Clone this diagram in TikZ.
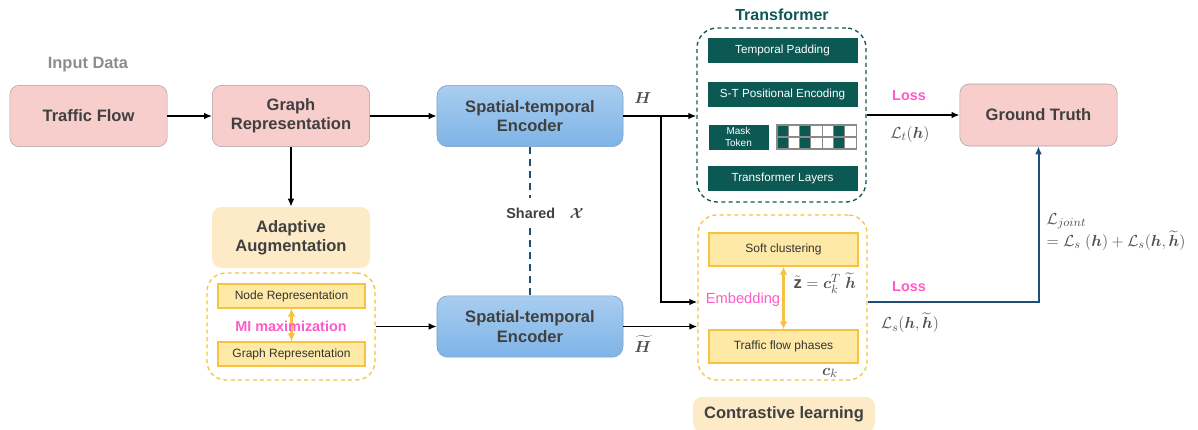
\documentclass[tikz,border=0pt]{standalone}
\usepackage{fontspec}
\setmainfont{Liberation Sans}
\usepackage{amsmath}
\usepackage{bm}
\usetikzlibrary{arrows.meta}

\definecolor{txtgray}{HTML}{404040}
\definecolor{mathgray}{HTML}{505050}
\definecolor{inputgray}{HTML}{8C8C8C}
\definecolor{pinkfill}{HTML}{F8CECC}
\definecolor{boxedge}{HTML}{A8A0A0}
\definecolor{enctop}{HTML}{A9CDEF}
\definecolor{encbot}{HTML}{7DB4E7}
\definecolor{encedge}{HTML}{7C9EC2}
\definecolor{augfill}{HTML}{FDEBC7}
\definecolor{orangeline}{HTML}{F5C242}
\definecolor{yellowfill}{HTML}{FFE9A6}
\definecolor{tealdark}{HTML}{0C5954}
\definecolor{navyline}{HTML}{1F4E79}
\definecolor{pinktxt}{HTML}{FF5AC8}
\definecolor{cellgray}{HTML}{8A8A8A}

\tikzset{
  pinkbox/.style={draw=boxedge, fill=pinkfill, rounded corners=7pt, text=txtgray,
    font=\bfseries\fontsize{12.4}{14.5}\selectfont, align=center, inner sep=0pt,
    minimum width=118pt, minimum height=46pt},
  encbox/.style={draw=encedge, top color=enctop, bottom color=encbot, rounded corners=8pt,
    text=txtgray, font=\bfseries\fontsize{12.4}{14.5}\selectfont, align=center, inner sep=0pt,
    minimum width=139.5pt, minimum height=46pt},
  softbox/.style={fill=augfill, rounded corners=7pt, text=txtgray,
    font=\bfseries\fontsize{12.4}{14.5}\selectfont, align=center, inner sep=0pt},
  orangedash/.style={draw=orangeline, line width=1pt, dash pattern=on 3pt off 2.5pt,
    rounded corners=14pt, inner sep=0pt},
  tealdash/.style={draw=tealdark, line width=1pt, dash pattern=on 3pt off 2.5pt,
    rounded corners=15pt, inner sep=0pt},
  yellowbar/.style={draw=orangeline, fill=yellowfill, line width=1pt, text=black!80,
    font=\fontsize{9}{11}\selectfont, inner sep=0pt, minimum width=110.25pt},
  tealbar/.style={draw=tealdark, fill=tealdark, text=white, font=\fontsize{8.8}{10}\selectfont,
    align=center, inner sep=0pt, minimum width=111.75pt, minimum height=18pt},
  arr/.style={-{Latex[length=6pt,width=5pt]}, line width=1.4pt, black},
  dblarr/.style={{Latex[length=6pt,width=6pt]}-{Latex[length=6pt,width=6pt]},
    line width=2pt, orangeline},
  pinklbl/.style={text=pinktxt, font=\bfseries\fontsize{10.8}{12}\selectfont},
  mathlbl/.style={text=mathgray, font=\fontsize{12.5}{15}\selectfont},
}

\begin{document}
\begin{tikzpicture}[x=0.75pt,y=-0.75pt]
\useasboundingbox (0,0) rectangle (1198,429);

\node [text=inputgray, font=\bfseries\fontsize{12.3}{14}\selectfont] (input) at (88,65) {Input Data};
\node [pinkbox] (flow) at (88.5,116) {Traffic Flow};
\node [pinkbox] (graph) at (291,116) {Graph\\Representation};
\node [encbox] (enc1) at (530,116) {Spatial-temporal\\Encoder};
\node [encbox] (enc2) at (530,326.5) {Spatial-temporal\\Encoder};
\node [pinkbox, minimum height=46.5pt] (gt) at (1038.5,115) {Ground Truth};

\node [softbox, minimum width=118.5pt, minimum height=45.75pt] (aug) at (291,237.5) {Adaptive\\Augmentation};
\node [orangedash, minimum width=126pt, minimum height=80.25pt] (mibox) at (291,326.5) {};
\node [yellowbar, minimum height=18pt] (noderep) at (291.5,296) {Node Representation};
\node [yellowbar, minimum height=18pt] (graphrep) at (291.5,354) {Graph Representation};
\draw [dblarr] (noderep) -- (graphrep);
\node [pinklbl] (mitxt) at (291,326) {MI maximization};

\node [text=txtgray, font=\bfseries\fontsize{10.8}{12}\selectfont, inner sep=7pt] (shared) at (545,213)
  {Shared\quad$\boldsymbol{\mathcal{X}}$};
\draw [navyline, line width=1.2pt, dash pattern=on 5pt off 4pt] (enc1.south) -- (enc1.south |- shared.north);
\draw [navyline, line width=1.2pt, dash pattern=on 5pt off 4pt] (enc2.north |- shared.south) -- (enc2.north);

\node [tealdash, minimum width=126.75pt, minimum height=130.5pt] (trans) at (781.5,115) {};
\node [text=tealdark, font=\bfseries\fontsize{12}{14}\selectfont] (transttl) at (782,15) {Transformer};
\node [tealbar] (tpad) at (782.5,50) {Temporal Padding};
\node [tealbar] (stpe) at (782.5,94) {S-T Positional Encoding};
\node [tealbar, minimum width=44.25pt, font=\fontsize{7.5}{8.5}\selectfont] (mask) at (738.5,137) {Mask\\Token};
\foreach \i/\c in {0/tealdark,1/white,2/tealdark,3/white,4/white,5/tealdark,6/white} {
  \draw [draw=cellgray, fill=\c, line width=0.8pt] (777+\i*11.3,125) rectangle ++(11.3,12);
  \draw [draw=cellgray, fill=\c, line width=0.8pt] (777+\i*11.3,137) rectangle ++(11.3,12);
}
\node [tealbar] (tlayers) at (782.5,178.5) {Transformer Layers};

\node [orangedash, minimum width=126.75pt, minimum height=123.75pt] (contr) at (782.5,297.5) {};
\node [yellowbar, minimum width=111.75pt, minimum height=24.75pt] (soft) at (783.5,249.5) {Soft clustering};
\node [yellowbar, minimum width=111.75pt, minimum height=24.75pt] (phases) at (783.5,346.5) {Traffic flow phases};
\draw [dblarr] (soft) -- (phases);
\node [pinklbl, font=\fontsize{11}{13}\selectfont] (emb) at (743,300) {Embedding};
\node [mathlbl, anchor=west, inner sep=1pt] (zlbl) at (792,283)
  {$\tilde{\mathbf{z}}=\boldsymbol{c}_k^T\;\widetilde{\boldsymbol{h}}$};
\node [mathlbl] (ck) at (830,373) {$\boldsymbol{c}_k$};
\node [softbox, minimum width=136.5pt, minimum height=26.25pt] (cl) at (784,414.5) {Contrastive learning};

\node [mathlbl] (hlbl) at (643,98) {$\boldsymbol{H}$};
\node [mathlbl] (htlbl) at (643,344) {$\widetilde{\boldsymbol{H}}$};
\node [pinklbl] (loss1) at (909,96) {Loss};
\node [mathlbl] (lt) at (910,134) {$\mathcal{L}_t(\boldsymbol{h})$};
\node [pinklbl] (loss2) at (909,287) {Loss};
\node [mathlbl] (ls) at (910,323) {$\mathcal{L}_s(\boldsymbol{h},\widetilde{\boldsymbol{h}})$};
\node [mathlbl, anchor=west, align=left] (joint) at (1042,232)
  {$\mathcal{L}_{joint}$\\$=\mathcal{L}_s\;(\boldsymbol{h})+\mathcal{L}_s(\boldsymbol{h},\widetilde{\boldsymbol{h}})$};

\coordinate (split) at (661,116);
\coordinate (emb1) at (697,302);

\draw [arr] (flow) -- (graph);
\draw [arr] (graph) -- (enc1);
\draw [arr] (graph) -- (aug);
\draw [arr] (mibox.east) -- (mibox.east -| enc2.west);
\draw [arr] (enc1.east) -- (enc1.east -| trans.west);
\draw [arr] (split) |- (emb1 -| contr.west);
\draw [arr] (enc2.east) -- (enc2.east -| contr.west);
\draw [arr] (trans.east) -- (gt.west);
\draw [-{Latex[length=6pt,width=5pt]}, line width=1.5pt, navyline] (emb1 -| contr.east) -| (gt.south);
\end{tikzpicture}
\end{document}
